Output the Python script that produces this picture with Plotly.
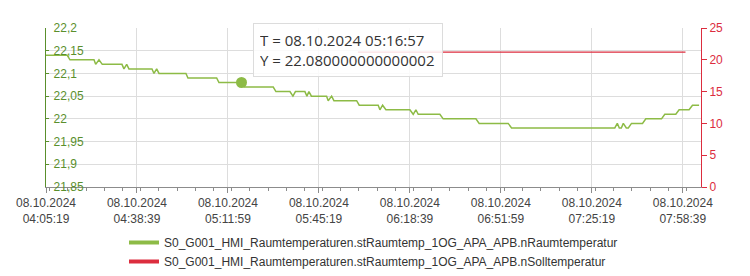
import plotly.graph_objects as go

DAY = "2024-10-08 "

# Raumtemperatur (left axis) – vertices
raum_times = [
    "04:05:19", "04:13:07", "04:14:06", "04:22:54", "04:23:31", "04:24:44", "04:25:56",
    "04:33:09", "04:33:53", "04:34:53", "04:35:43", "04:44:09", "04:44:53", "04:45:52",
    "04:46:43", "04:56:36", "04:57:20", "05:07:51", "05:08:41", "05:16:57", "05:18:00",
    "05:28:35", "05:29:34", "05:34:42", "05:35:48", "05:36:43", "05:40:11", "05:40:55",
    "05:41:39", "05:42:34", "05:48:08", "05:48:43", "05:49:58", "05:50:49", "05:59:08",
    "06:00:05", "06:07:02", "06:07:40", "06:08:39", "06:09:52", "06:18:39", "06:19:52",
    "06:20:51", "06:21:42", "06:29:38", "06:30:51", "06:42:50", "06:44:02", "06:54:40",
    "06:55:54", "07:33:44", "07:34:39", "07:35:23", "07:36:07", "07:36:51", "07:37:57",
    "07:38:41", "07:39:51", "07:43:53", "07:45:06", "07:50:51", "07:52:03", "07:56:05",
    "07:57:18", "08:00:57", "08:02:12", "08:04:37",
]
raum_values = [
    22.14, 22.14, 22.13, 22.13, 22.12, 22.13, 22.12,
    22.12, 22.11, 22.12, 22.11, 22.11, 22.10, 22.11,
    22.10, 22.10, 22.09, 22.09, 22.08, 22.08, 22.07,
    22.07, 22.06, 22.06, 22.05, 22.06, 22.06, 22.05,
    22.06, 22.05, 22.05, 22.04, 22.05, 22.04, 22.04,
    22.03, 22.03, 22.02, 22.03, 22.02, 22.02, 22.01,
    22.02, 22.01, 22.01, 22.00, 22.00, 21.99, 21.99,
    21.98, 21.98, 21.99, 21.98, 21.98, 21.99, 21.98,
    21.98, 21.99, 21.99, 22.00, 22.00, 22.01, 22.01,
    22.02, 22.02, 22.03, 22.03,
]

# Solltemperatur (right axis)
soll_times = ["05:59:36", "07:59:38"]
soll_values = [21.2, 21.2]

# Hovered point shown in the tooltip
hover_time = "05:16:57"
hover_value = 22.080000000000002

# Axis settings / tick labels
x_start = "04:05:19"
x_end = "08:05:19"
left_tickvals = [21.85, 21.9, 21.95, 22.0, 22.05, 22.1, 22.15, 22.2]
left_ticktext = ["21,85", "21,9", "21,95", "22", "22,05", "22,1", "22,15", "22,2"]
right_tickvals = [0, 5, 10, 15, 20, 25]

name_raum = "S0_G001_HMI_Raumtemperaturen.stRaumtemp_1OG_APA_APB.nRaumtemperatur"
name_soll = "S0_G001_HMI_Raumtemperaturen.stRaumtemp_1OG_APA_APB.nSolltemperatur"

GREEN = "#8dbb46"
GREEN_AX = "#5a8f2c"
RED = "#dc2d3e"
FONT = "Liberation Sans, Arial, sans-serif"

fig = go.Figure()
fig.add_trace(go.Scatter(
    x=[DAY + t for t in raum_times], y=raum_values, mode="lines",
    line=dict(color=GREEN, width=1.5), showlegend=False, yaxis="y"))
fig.add_trace(go.Scatter(
    x=[DAY + t for t in soll_times], y=soll_values, mode="lines",
    line=dict(color=RED, width=1.3), showlegend=False, yaxis="y2"))
fig.add_trace(go.Scatter(
    x=[DAY + hover_time], y=[hover_value], mode="markers",
    marker=dict(color=GREEN, size=11), showlegend=False, yaxis="y"))
# legend entries (thicker swatches)
fig.add_trace(go.Scatter(x=[None], y=[None], mode="lines", name=name_raum,
                         line=dict(color=GREEN, width=4)))
fig.add_trace(go.Scatter(x=[None], y=[None], mode="lines", name=name_soll,
                         line=dict(color=RED, width=4)))

fig.add_annotation(
    xref="paper", yref="paper", x=(253 - 46) / 655, y=(187 - 23) / 159,
    xanchor="left", yanchor="top", align="left", showarrow=False,
    text=f"T = 08.10.2024 {hover_time}<br>Y = {hover_value!r}",
    font=dict(family="Open Sans, Noto Sans, sans-serif", size=15, color="#333333"),
    bgcolor="rgba(255,255,255,0.85)", bordercolor="#dcdcdc", borderwidth=1,
    borderpad=6, width=176, height=40)

fig.update_layout(
    width=750, height=276,
    margin=dict(l=46, r=49, t=28, b=89, autoexpand=False),
    paper_bgcolor="white", plot_bgcolor="white",
    font=dict(family=FONT, size=12, color="#444444"),
    xaxis=dict(
        type="date", range=[DAY + x_start, DAY + x_end],
        tick0=DAY + x_start, dtick=2000000,
        tickformat="%d.%m.%Y<br>%H:%M:%S",
        showgrid=True, gridcolor="#dddddd", gridwidth=1,
        showline=True, linecolor="#8c8c8c", linewidth=1,
        ticks="outside", ticklen=5, tickcolor="#8c8c8c",
        minor=dict(dtick=400000, ticks="outside", ticklen=3, tickcolor="#8c8c8c", showgrid=False),
        tickfont=dict(size=12, color="#444444"),
        zeroline=False, automargin=False,
    ),
    yaxis=dict(
        range=[21.85, 22.2], tickvals=left_tickvals, ticktext=left_ticktext,
        showgrid=True, gridcolor="#dddddd", gridwidth=1,
        showline=True, linecolor=GREEN_AX, linewidth=1,
        ticks="inside", ticklen=3, tickcolor=GREEN_AX,
        ticklabelposition="inside", ticklabeloverflow="allow", ticklabelstandoff=4,
        tickfont=dict(size=12, color=GREEN_AX),
        zeroline=False, automargin=False,
    ),
    yaxis2=dict(
        range=[0, 25], tickvals=right_tickvals, overlaying="y", side="right",
        showgrid=False, showline=True, linecolor=RED, linewidth=1,
        ticks="outside", ticklen=5, tickcolor=RED,
        tickfont=dict(size=12, color=RED), zeroline=False, automargin=False,
    ),
    legend=dict(
        orientation="v", x=0.5, xanchor="center",
        yref="container", y=1 - 228 / 276, yanchor="top",
        font=dict(family=FONT, size=12, color="#333333"), bgcolor="rgba(0,0,0,0)",
        tracegroupgap=0,
    ),
    showlegend=True,
)

fig.write_html("out.html")
